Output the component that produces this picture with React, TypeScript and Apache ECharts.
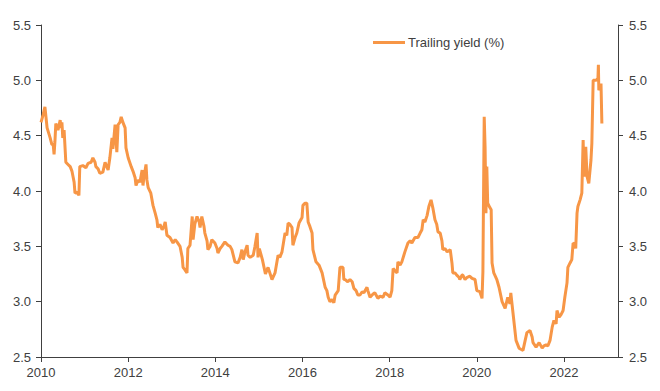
import React, { useEffect, useRef } from "react";
import * as echarts from "echarts";

// Decimal year of each observation
const dates: number[] = [
  2010.0, 2010.05, 2010.09, 2010.14, 2010.21, 2010.25, 2010.28, 2010.3, 2010.32, 2010.34,
  2010.39, 2010.44, 2010.46, 2010.48, 2010.5, 2010.53, 2010.57, 2010.62, 2010.67, 2010.71,
  2010.73, 2010.76, 2010.78, 2010.83, 2010.87, 2010.89, 2010.96, 2011.03, 2011.08, 2011.15,
  2011.19, 2011.24, 2011.26, 2011.31, 2011.35, 2011.42, 2011.47, 2011.51, 2011.54, 2011.58,
  2011.63, 2011.65, 2011.7, 2011.74, 2011.77, 2011.81, 2011.84, 2011.88, 2011.93, 2011.95,
  2012.0, 2012.07, 2012.11, 2012.16, 2012.18, 2012.23, 2012.27, 2012.32, 2012.34, 2012.36,
  2012.41, 2012.43, 2012.46, 2012.52, 2012.57, 2012.62, 2012.66, 2012.68, 2012.73, 2012.78,
  2012.82, 2012.85, 2012.89, 2012.96, 2013.03, 2013.08, 2013.12, 2013.19, 2013.24, 2013.26,
  2013.3, 2013.35, 2013.37, 2013.42, 2013.47, 2013.49, 2013.53, 2013.58, 2013.63, 2013.65,
  2013.69, 2013.74, 2013.76, 2013.81, 2013.83, 2013.88, 2013.92, 2013.99, 2014.04, 2014.06,
  2014.11, 2014.15, 2014.22, 2014.29, 2014.34, 2014.38, 2014.45, 2014.52, 2014.57, 2014.61,
  2014.64, 2014.68, 2014.73, 2014.75, 2014.8, 2014.87, 2014.91, 2014.96, 2014.98, 2015.01,
  2015.08, 2015.15, 2015.21, 2015.3, 2015.37, 2015.44, 2015.48, 2015.53, 2015.6, 2015.64,
  2015.67, 2015.71, 2015.76, 2015.78, 2015.83, 2015.87, 2015.92, 2015.99, 2016.01, 2016.06,
  2016.1, 2016.13, 2016.17, 2016.22, 2016.24, 2016.31, 2016.38, 2016.45, 2016.52, 2016.56,
  2016.59, 2016.63, 2016.68, 2016.72, 2016.75, 2016.82, 2016.86, 2016.93, 2016.95, 2016.98,
  2017.04, 2017.09, 2017.14, 2017.18, 2017.23, 2017.27, 2017.32, 2017.37, 2017.41, 2017.48,
  2017.5, 2017.55, 2017.62, 2017.66, 2017.73, 2017.78, 2017.85, 2017.89, 2017.96, 2018.01,
  2018.05, 2018.08, 2018.12, 2018.17, 2018.19, 2018.24, 2018.28, 2018.35, 2018.42, 2018.47,
  2018.51, 2018.58, 2018.65, 2018.7, 2018.74, 2018.77, 2018.81, 2018.86, 2018.9, 2018.95,
  2018.99, 2019.04, 2019.08, 2019.11, 2019.16, 2019.2, 2019.22, 2019.27, 2019.32, 2019.39,
  2019.43, 2019.45, 2019.5, 2019.54, 2019.59, 2019.61, 2019.66, 2019.68, 2019.73, 2019.78,
  2019.84, 2019.89, 2019.96, 2020.0, 2020.07, 2020.12, 2020.14, 2020.17, 2020.19, 2020.21,
  2020.23, 2020.25, 2020.3, 2020.33, 2020.35, 2020.39, 2020.46, 2020.51, 2020.58, 2020.65,
  2020.71, 2020.76, 2020.78, 2020.83, 2020.9, 2020.97, 2021.01, 2021.06, 2021.11, 2021.15,
  2021.22, 2021.27, 2021.29, 2021.36, 2021.43, 2021.5, 2021.54, 2021.59, 2021.63, 2021.68,
  2021.73, 2021.77, 2021.82, 2021.84, 2021.89, 2021.93, 2021.98, 2022.02, 2022.07, 2022.09,
  2022.14, 2022.18, 2022.21, 2022.25, 2022.27, 2022.3, 2022.32, 2022.37, 2022.41, 2022.44,
  2022.46, 2022.5, 2022.53, 2022.57, 2022.62, 2022.64, 2022.67, 2022.74, 2022.78, 2022.79,
  2022.8, 2022.85, 2022.87,
];

// Trailing yield (%)
const trailingYield: number[] = [
  4.62, 4.69, 4.76, 4.57, 4.48, 4.42, 4.42, 4.33, 4.45, 4.61,
  4.55, 4.64, 4.57, 4.62, 4.48, 4.55, 4.26, 4.24, 4.22, 4.18,
  4.14, 4.08, 3.98, 3.99, 3.96, 4.22, 4.23, 4.21, 4.25, 4.26,
  4.3, 4.26, 4.22, 4.2, 4.16, 4.17, 4.26, 4.22, 4.19, 4.3,
  4.48, 4.38, 4.6, 4.35, 4.6, 4.62, 4.67, 4.62, 4.57, 4.39,
  4.3, 4.22, 4.18, 4.12, 4.05, 4.1, 4.08, 4.19, 4.05, 4.12,
  4.24, 4.1, 4.03, 3.98, 3.87, 3.8, 3.74, 3.67, 3.7, 3.65,
  3.68, 3.72, 3.6, 3.58, 3.53, 3.56, 3.54, 3.5, 3.4, 3.31,
  3.29, 3.26, 3.48, 3.51, 3.77, 3.56, 3.7, 3.77, 3.72, 3.67,
  3.77, 3.68, 3.62, 3.55, 3.47, 3.5, 3.56, 3.53, 3.48, 3.44,
  3.48, 3.5, 3.54, 3.51, 3.5, 3.47, 3.36, 3.35, 3.4, 3.47,
  3.38, 3.45, 3.51, 3.42, 3.4, 3.42, 3.5, 3.62, 3.4, 3.48,
  3.38, 3.25, 3.31, 3.2, 3.26, 3.42, 3.4, 3.45, 3.62, 3.6,
  3.71, 3.7, 3.67, 3.51, 3.58, 3.62, 3.71, 3.76, 3.87, 3.89,
  3.89, 3.72, 3.68, 3.62, 3.47, 3.36, 3.33, 3.26, 3.13, 3.1,
  3.04, 3.0, 3.02, 2.99, 3.06, 3.1, 3.31, 3.31, 3.2, 3.2,
  3.18, 3.2, 3.18, 3.12, 3.1, 3.06, 3.06, 3.09, 3.08, 3.13,
  3.1, 3.04, 3.07, 3.08, 3.03, 3.05, 3.04, 3.08, 3.06, 3.04,
  3.1, 3.3, 3.28, 3.26, 3.36, 3.33, 3.36, 3.45, 3.53, 3.55,
  3.53, 3.58, 3.58, 3.62, 3.65, 3.74, 3.72, 3.78, 3.86, 3.92,
  3.85, 3.74, 3.7, 3.63, 3.62, 3.55, 3.47, 3.48, 3.45, 3.47,
  3.35, 3.26, 3.26, 3.24, 3.22, 3.2, 3.24, 3.24, 3.2, 3.22,
  3.23, 3.21, 3.2, 3.1, 3.09, 3.03, 3.27, 4.67, 4.4, 3.8,
  4.22, 3.89, 3.85, 3.83, 3.35, 3.26, 3.2, 3.13, 3.0, 2.94,
  3.04, 2.98, 3.08, 2.9, 2.65, 2.58, 2.57, 2.56, 2.65, 2.72,
  2.74, 2.68, 2.63, 2.59, 2.63, 2.58, 2.6, 2.61, 2.6, 2.65,
  2.77, 2.83, 2.8, 2.92, 2.86, 2.88, 2.92, 3.04, 3.17, 3.31,
  3.35, 3.38, 3.53, 3.52, 3.48, 3.8, 3.86, 3.92, 3.98, 4.46,
  4.13, 4.4, 4.13, 4.07, 4.28, 4.43, 5.0, 5.0, 5.02, 5.14,
  4.91, 4.97, 4.61,
];

const yearTicks: number[] = [2010, 2012, 2014, 2016, 2018, 2020, 2022];
const seriesName = "Trailing yield (%)";

export default function App() {
  const ref = useRef<HTMLDivElement>(null);
  useEffect(() => {
    if (!ref.current) return;
    const chart = echarts.init(ref.current, undefined, { renderer: "svg" });
    const textColor = "#404040";
    const axisColor = "#404040";
    const font = "Liberation Sans, Arial, sans-serif";
    const yAxisBase = {
      type: "value" as const,
      min: 2.5,
      max: 5.5,
      interval: 0.5,
      axisLine: { show: true, lineStyle: { color: axisColor, width: 1 } },
      axisTick: { show: true, length: 5, lineStyle: { color: axisColor } },
      splitLine: { show: false },
      axisLabel: {
        color: textColor,
        fontSize: 13,
        fontFamily: font,
        margin: 10,
        formatter: (v: number) => v.toFixed(1),
      },
    };
    chart.setOption({
      animation: false,
      backgroundColor: "#ffffff",
      grid: { left: 41, right: 42, top: 25, bottom: 34, containLabel: false },
      legend: {
        show: true,
        left: 373,
        top: 36,
        padding: 0,
        itemWidth: 32,
        itemHeight: 14,
        itemGap: 5,
        icon: "rect",
        data: [{ name: seriesName, icon: "path://M0,0 L32,0 L32,3 L0,3 Z" }],
        textStyle: { color: textColor, fontSize: 13, fontFamily: font, padding: [0, 0, 0, -2] },
      },
      xAxis: {
        type: "value",
        min: 2010,
        max: 2023.24,
        interval: 2,
        axisLine: { show: true, onZero: false, lineStyle: { color: axisColor, width: 1 } },
        axisTick: { show: true, length: 5, customValues: yearTicks, lineStyle: { color: axisColor } },
        splitLine: { show: false },
        axisLabel: {
          color: textColor,
          fontSize: 13,
          fontFamily: font,
          margin: 9,
          customValues: yearTicks,
          formatter: (v: number) => String(Math.round(v)),
        },
      },
      yAxis: [
        { ...yAxisBase, position: "left" },
        { ...yAxisBase, position: "right", axisLabel: { ...yAxisBase.axisLabel, margin: 11 } },
      ],
      series: [
        {
          name: seriesName,
          type: "line",
          yAxisIndex: 0,
          data: dates.map((d, i) => [d, trailingYield[i]]),
          showSymbol: false,
          symbol: "none",
          lineStyle: { color: "#F79646", width: 3 },
          itemStyle: { color: "#F79646" },
          color: "#F79646",
        },
      ],
    });
    return () => chart.dispose();
  }, []);
  return (
    <div
      ref={ref}
      style={{ position: "absolute", left: 0, top: 0, width: 660, height: 391 }}
    />
  );
}
